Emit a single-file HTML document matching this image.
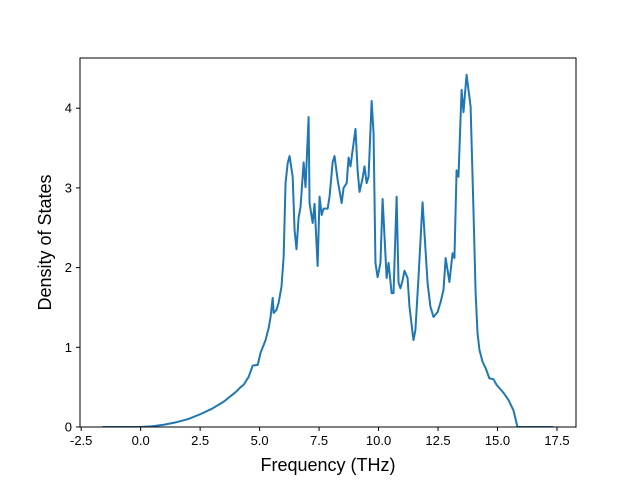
<!DOCTYPE html>
<html><head><meta charset="utf-8"><style>
body{margin:0;background:#fff;}
svg text{font-family:"Liberation Sans","DejaVu Sans",sans-serif;fill:#000;}
</style></head><body>
<svg id="chart" width="640" height="480" xmlns="http://www.w3.org/2000/svg">
<rect width="640" height="480" fill="#fff"/>
<g id="plot"></g>
<g id="axes"></g>
<text x="328" y="471" font-size="18" text-anchor="middle">Frequency (THz)</text>
<text transform="translate(51,242.5) rotate(-90)" font-size="18" text-anchor="middle">Density of States</text>
</svg>
<script>
const freq=[-1.6,0,0.5,1.0,1.5,2.0,2.5,3.0,3.5,4.0,4.2,4.33,4.54,4.71,4.92,5.04,5.25,5.38,5.46,5.55,5.59,5.71,5.8,5.92,6.01,6.09,6.18,6.26,6.39,6.47,6.55,6.64,6.72,6.85,6.93,7.06,7.1,7.23,7.31,7.44,7.52,7.61,7.69,7.86,7.94,8.07,8.15,8.28,8.45,8.53,8.66,8.74,8.82,8.95,9.03,9.12,9.2,9.33,9.41,9.5,9.58,9.71,9.79,9.87,9.96,10.08,10.17,10.34,10.42,10.55,10.63,10.76,10.84,10.92,11.01,11.09,11.22,11.3,11.43,11.47,11.55,11.68,11.85,12.06,12.18,12.31,12.48,12.61,12.73,12.82,12.98,13.11,13.19,13.28,13.36,13.49,13.57,13.7,13.87,13.99,14.08,14.16,14.24,14.37,14.5,14.66,14.83,14.96,15.25,15.46,15.67,15.84,17.35];
const dos=[0,0,0.01,0.03,0.06,0.1,0.16,0.23,0.32,0.44,0.5,0.53,0.63,0.77,0.78,0.93,1.09,1.24,1.38,1.62,1.43,1.47,1.56,1.76,2.13,3.06,3.31,3.4,3.14,2.47,2.23,2.63,2.76,3.32,3.01,3.89,2.81,2.56,2.8,2.02,2.89,2.66,2.74,2.74,2.89,3.32,3.4,3.1,2.81,3.0,3.06,3.38,3.27,3.56,3.74,3.22,2.95,3.12,3.27,3.06,3.14,4.09,3.69,2.06,1.88,2.06,2.86,1.87,2.06,1.68,1.68,2.89,1.81,1.74,1.84,1.96,1.87,1.51,1.18,1.09,1.22,1.88,2.82,1.81,1.51,1.38,1.44,1.57,1.72,2.12,1.82,2.18,2.12,3.22,3.14,4.23,3.95,4.42,4.02,2.72,1.68,1.18,0.97,0.82,0.74,0.61,0.6,0.53,0.43,0.34,0.21,0,0];
const xTicks=[-2.5,0,2.5,5,7.5,10,12.5,15,17.5];
const yTicks=[0,1,2,3,4];
const L=80,T=58,W=496,H=369;
const xMin=-2.55,xMax=18.3,yMin=0,yMax=4.63;
const sx=v=>L+(v-xMin)/(xMax-xMin)*W;
const sy=v=>T+H-(v-yMin)/(yMax-yMin)*H;
const NS='http://www.w3.org/2000/svg';
const plot=document.getElementById('plot'),axes=document.getElementById('axes');
function mk(tag,attrs,parent){const e=document.createElementNS(NS,tag);for(const k in attrs)e.setAttribute(k,attrs[k]);parent.appendChild(e);return e;}
const cp=mk('clipPath',{id:'cp'},plot);mk('rect',{x:L,y:T,width:W,height:H},cp);
const line=mk('path',{d:freq.map((f,i)=>(i?'L':'M')+sx(f).toFixed(2)+','+sy(dos[i]).toFixed(2)).join(''),fill:'none',stroke:'#1f77b4','stroke-width':2,'stroke-linejoin':'round','clip-path':'url(#cp)'},plot);


const frame=mk('rect',{x:L,y:T,width:W,height:H,fill:'none',stroke:'#000','stroke-width':1},axes);


xTicks.forEach(t=>{const x=sx(t);
 const tk=mk('line',{x1:x,x2:x,y1:T+H,y2:T+H+4,stroke:'#000','stroke-width':1},axes);
 
 
 const tx=mk('text',{x:x,y:T+H+18,'font-size':13,'text-anchor':'middle'},axes);tx.textContent=t.toFixed(1);
 
 });
yTicks.forEach(t=>{const y=sy(t);
 const tk=mk('line',{x1:L-4,x2:L,y1:y,y2:y,stroke:'#000','stroke-width':1},axes);
 
 
 const tx=mk('text',{x:L-8,y:y+4.5,'font-size':13,'text-anchor':'end'},axes);tx.textContent=String(t);
 
 });
</script>
</body></html>
